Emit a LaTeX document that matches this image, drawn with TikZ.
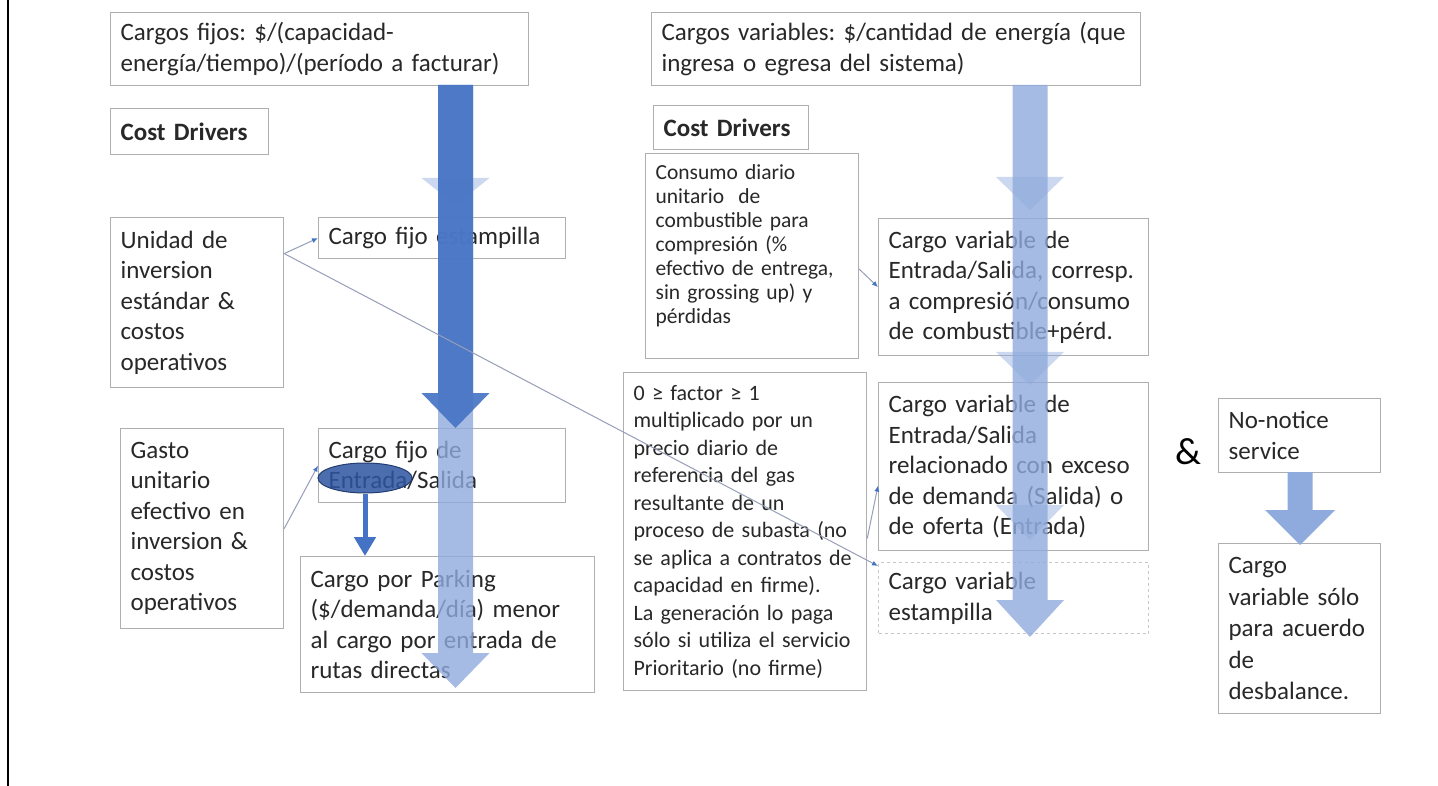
\documentclass[tikz,border=0pt]{standalone}
\usepackage{fontspec}
\setmainfont{Carlito}
\usetikzlibrary{arrows.meta,shapes.geometric}
\definecolor{ink}{RGB}{40,40,40}
\definecolor{boxline}{RGB}{175,175,175}
\definecolor{darkblue}{RGB}{68,114,196}
\definecolor{lightblue}{RGB}{143,170,220}
\definecolor{linkline}{RGB}{150,158,185}
\definecolor{ovalblue}{RGB}{47,85,160}
\frenchspacing
\tikzset{
  box/.style={draw=boxline, line width=1.2pt, anchor=north west, align=left,
    inner xsep=10pt, inner ysep=3pt, text=ink, font=\fontsize{25}{30.5}\selectfont},
  dotbox/.style={box, draw=boxline!70, dashed},
  link/.style={draw=linkline, line width=1pt, -{Latex[length=6pt,width=5pt,color=darkblue]}}
}

\begin{document}
\begin{tikzpicture}[x=1pt,y=-1pt]
\newcommand{\blockarrow}[7]{\fill[#7] (#1-#5,#2) -- (#1+#5,#2) -- (#1+#5,#3) -- (#1+#6,#3) -- (#1,#4) -- (#1-#6,#3) -- (#1-#5,#3) -- cycle;}
\newcommand{\ghosthead}[4]{\fill[lightblue, fill opacity=0.45] (#1-#4,#2) -- (#1+#4,#2) -- (#1,#3) -- cycle;}
\useasboundingbox[fill=white] (0,0) rectangle (1438,786);
\draw[line width=1.5pt] (8,0) -- (8,786);

\node (fijos) [box, text width=398pt, minimum height=73pt] at (110,12) {Cargos fijos: \$/(capacidad-\\energía/tiempo)/(período a facturar)};
\node (cdl) [box, text width=138pt, minimum height=46pt] at (110,108) {\textbf{Cost Drivers}};
\node (unidad) [box, text width=153pt, minimum height=170pt] at (110,217) {Unidad de\\inversion\\estándar \&\\costos\\operativos};
\node (festamp) [box, text width=227pt, minimum height=41pt] at (318,217) {Cargo fijo estampilla};
\node (gasto) [box, text width=143pt, minimum height=200pt] at (120,428) {Gasto\\unitario\\efectivo en\\inversion \&\\costos\\operativos};
\node (fijoes) [box, text width=227pt, minimum height=74pt] at (318,428) {Cargo fijo de\\Entrada/Salida};
\node (parking) [box, text width=274pt, minimum height=136pt] at (300,556) {Cargo por Parking\\(\$/demanda/día) menor\\al cargo por entrada de\\rutas directas};

\node (variables) [box, text width=469pt, minimum height=73pt] at (651,12) {Cargos variables: \$/cantidad de energía (que\\ingresa o egresa del sistema)};
\node (cdr) [box, text width=135pt, minimum height=44pt] at (653,105) {\textbf{Cost Drivers}};
\node (consumo) [box, text width=193pt, minimum height=205pt, font=\fontsize{21.5}{24}\selectfont] at (645,153) {Consumo diario\\unitario~ de\\combustible para\\compresión (\%\\efectivo de entrega,\\sin grossing up) y\\pérdidas\\~};
\node (corresp) [box, text width=250pt, minimum height=137pt] at (878,218) {Cargo variable de\\Entrada/Salida, corresp.\\a compresión/consumo\\de combustible+pérd.};
\node (factor) [box, text width=223pt, minimum height=318pt, font=\fontsize{22}{27.5}\selectfont] at (623,372) {0 ≥ factor ≥ 1\\multiplicado por un\\precio diario de\\referencia del gas\\resultante de un\\proceso de subasta (no\\se aplica a contratos de\\capacidad en firme).\\La generación lo paga\\sólo si utiliza el servicio\\Prioritario (no firme)};
\node (exceso) [box, text width=250pt, minimum height=168pt] at (878,382) {Cargo variable de\\Entrada/Salida\\relacionado con exceso\\de demanda (Salida) o\\de oferta (Entrada)};
\node (vestamp) [dotbox, text width=250pt, minimum height=71pt] at (878,562) {Cargo variable\\estampilla};

\node (amp) [text=black, font=\fontsize{38}{40}\selectfont] at (1188,452) {\&};
\node (nonotice) [box, text width=142pt, minimum height=74pt] at (1218,398) {No-notice\\service};
\node (solo) [box, text width=142pt, minimum height=170pt, font=\fontsize{25}{31.5}\selectfont] at (1218,543) {Cargo\\variable sólo\\para acuerdo\\de\\desbalance.};

\ghosthead{455.5}{178}{205}{34}
\blockarrow{455.5}{85}{653}{688}{17.5}{34}{lightblue, fill opacity=0.8}
\blockarrow{455.5}{85}{393}{428}{17.5}{34}{darkblue, fill opacity=0.9}
\ghosthead{1030}{177}{210}{34}
\ghosthead{1030}{352}{385}{34}
\ghosthead{1030}{505}{540}{34}
\blockarrow{1030}{85}{600}{637}{17.5}{34}{lightblue, fill opacity=0.8}
\blockarrow{1300}{472}{510}{545}{12.5}{35}{lightblue}

\node (oval) [ellipse, fill=ovalblue, fill opacity=0.85, draw=ovalblue!70!black, line width=1pt, minimum width=94pt, minimum height=30pt] at (365,478) {};
\draw[darkblue, line width=5pt, -{Triangle[width=21pt,length=19pt]}] (oval.south) -- (oval.south |- parking.north);

\draw[link] ([yshift=49pt]unidad.east) -- (festamp.west);
\draw[link] ([yshift=49pt]unidad.east) -- ([yshift=-4pt]vestamp.north west);
\draw[link] (gasto.east) -- (fijoes.west);
\draw[link] ([yshift=-13pt]consumo.east) -- (corresp.west);
\draw[link] ([yshift=-7pt]factor.east) -- ([yshift=-19pt]exceso.west);
\end{tikzpicture}
\end{document}
